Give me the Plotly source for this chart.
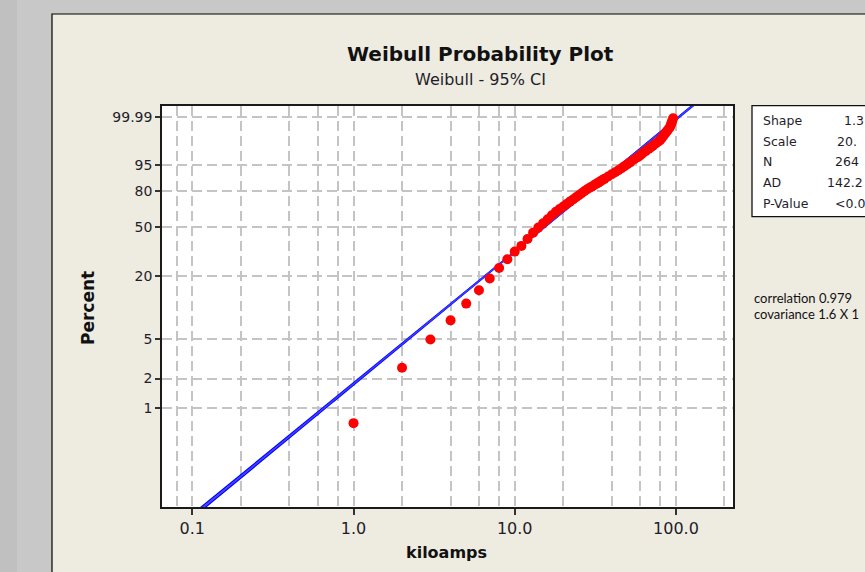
import numpy as np
import plotly.graph_objects as go

# ---------------- data ----------------
kiloamps = [1, 2, 3, 4, 5, 6, 7, 8, 9, 10, 11, 12, 13, 14, 15, 16, 17, 18, 19, 20,
            21, 22, 23, 24, 25, 26, 27, 28, 29, 30, 31, 32, 33, 34, 35, 36, 38, 40,
            42, 44, 46, 48, 50, 52, 55, 58, 60, 62, 65, 68, 70, 72, 75, 78, 80, 82,
            84, 86, 88, 90, 92, 93, 94, 95, 96]
percent = [0.71, 2.57, 4.92, 7.58, 11.0, 14.7, 18.9, 23.5, 28.0, 32.5, 36.2, 41.0,
           45.8, 49.8, 53.4, 56.8, 60.1, 63.2, 65.5, 67.7, 69.8, 71.8, 73.6, 75.4,
           77.0, 78.6, 80.0, 81.3, 82.4, 83.4, 84.4, 85.3, 86.1, 86.9, 87.7, 88.4,
           89.7, 90.9, 91.9, 92.8, 93.7, 94.5, 95.2, 95.8, 96.6, 97.2, 97.6, 98.0,
           98.38, 98.73, 98.91, 99.07, 99.27, 99.43, 99.52, 99.64, 99.74, 99.81,
           99.86, 99.90, 99.93, 99.951, 99.966, 99.978, 99.986]

fit_shape = 1.343
fit_scale = 20.06
ci_shapes = [1.335, 1.351]

y_tick_pct = [1, 2, 5, 20, 50, 80, 95, 99.99]
y_tick_text = ["1", "2", "5", "20", "50", "80", "95", "99.99"]
x_tick_vals = [0.1, 1, 10, 100]
x_tick_text = ["0.1", "1.0", "10.0", "100.0"]
x_minor_vals = [0.08, 0.2, 0.4, 0.6, 0.8, 2, 4, 6, 8, 20, 40, 60, 80, 200]

# statistics box (only the part visible in the reference)
stat_labels = ["Shape", "Scale", "N", "AD", "P-Value"]
stat_values = ["1.3", "20.", "264", "142.2", "<0.0"]
notes = ["correlation 0.979", "covariance 1.6 X 1"]

title = "Weibull Probability Plot"
subtitle = "Weibull - 95% CI"
x_title = "kiloamps"
y_title = "Percent"


def wb(p):
    p = np.asarray(p, dtype=float) / 100.0
    return np.log(-np.log(1.0 - p))


# ---------------- geometry helpers ----------------
W, H = 865, 572
L, R, T, B = 162, 132, 106, 65
PW, PH = W - L - R, H - T - B


def px(x):
    return (x - L) / PW


def py(y):
    return (H - B - y) / PH


FONT = "DejaVu Sans"
TXT = "#1e1e2a"

fig = go.Figure()

# fitted line and CI lines (from the Weibull parameters)
w_line = np.linspace(-8, 3.5, 300)
for s in ci_shapes:
    fig.add_trace(go.Scatter(x=fit_scale * np.exp(w_line / s), y=w_line, mode="lines",
                             line=dict(color="#0000ff", width=1.5), hoverinfo="skip"))
fig.add_trace(go.Scatter(x=fit_scale * np.exp(w_line / fit_shape), y=w_line, mode="lines",
                         line=dict(color="#3c3cff", width=1.5), hoverinfo="skip"))

# data points
fig.add_trace(go.Scatter(x=kiloamps, y=wb(percent), mode="markers",
                         marker=dict(color="#ff0000", size=10, line=dict(width=0)),
                         cliponaxis=False))

grid = dict(showgrid=True, gridcolor="#c4c4c4", gridwidth=1.5, griddash="10px,5px")

fig.update_xaxes(type="log", range=[-1.188, 2.354], tickmode="array",
                 tickvals=x_tick_vals, ticktext=x_tick_text,
                 ticks="outside", ticklen=6, tickwidth=1.5, tickcolor="#333",
                 showline=True, linecolor="#1a1a1a", linewidth=1.5, mirror=True,
                 zeroline=False,
                 tickfont=dict(family=FONT, size=16, color=TXT),
                 minor=dict(tickvals=x_minor_vals, ticklen=0, **grid),
                 **grid)
fig.update_yaxes(range=[-6.905, 2.471], tickmode="array",
                 tickvals=wb(y_tick_pct), ticktext=y_tick_text,
                 ticks="outside", ticklen=5, tickwidth=1.5, tickcolor="#333",
                 showline=True, linecolor="#1a1a1a", linewidth=1.5, mirror=True,
                 zeroline=False,
                 tickfont=dict(family=FONT, size=14, color=TXT),
                 **grid)

shapes = [
    dict(type="rect", xref="paper", yref="paper", x0=px(0), x1=px(17), y0=py(600), y1=py(0),
         fillcolor="#c0c0c0", line=dict(width=0), layer="below"),
    dict(type="rect", xref="paper", yref="paper", x0=px(52), x1=px(920), y0=py(620), y1=py(14),
         fillcolor="#eeebe1", line=dict(color="#000000", width=1.2), layer="below"),
    dict(type="rect", xref="paper", yref="paper", x0=0, x1=1, y0=0, y1=1,
         fillcolor="#ffffff", line=dict(width=0), layer="below"),
    dict(type="rect", xref="paper", yref="paper", x0=px(752), x1=px(920), y0=py(216.7), y1=py(105.7),
         fillcolor="#ffffff", line=dict(color="#111111", width=1.3), layer="above"),
]

ann = []


def add_text(text, x, y, size, bold=False, xanchor="center", family=FONT, color=TXT, angle=0):
    t = f"<b>{text}</b>" if bold else text
    ann.append(dict(text=t, x=px(x), y=py(y), xref="paper", yref="paper", showarrow=False,
                    xanchor=xanchor, yanchor="middle", textangle=angle,
                    font=dict(family=family, size=size, color=color)))


add_text(title, 480, 54, 20, bold=True, color="#111111")
add_text(subtitle, 480, 79, 16)
add_text(x_title, 446, 552, 16, bold=True, color="#111111")
add_text(y_title, 88, 308, 17, bold=True, color="#111111", angle=-90)

row_y = [120.7, 141.2, 161.7, 182.3, 203]
val_x = [842, 835, 833, 825, 833]
for lab, val, yy, vx in zip(stat_labels, stat_values, row_y, val_x):
    add_text(lab, 761, yy, 12.5, xanchor="left")
    add_text(val, vx, yy, 12.5, xanchor="left")

add_text(notes[0], 752, 298.3, 13, xanchor="left", family="Lato", color="#111111")
add_text(notes[1], 752, 313.5, 13, xanchor="left", family="Lato", color="#111111")

fig.update_layout(width=W, height=H, margin=dict(l=L, r=R, t=T, b=B, pad=0),
                  paper_bgcolor="#c8c8c8", plot_bgcolor="rgba(0,0,0,0)",
                  showlegend=False, shapes=shapes, annotations=ann)

fig.write_html("out.html", config={"displayModeBar": False},
               post_script="document.body.style.margin='0';document.body.style.overflow='hidden';")
